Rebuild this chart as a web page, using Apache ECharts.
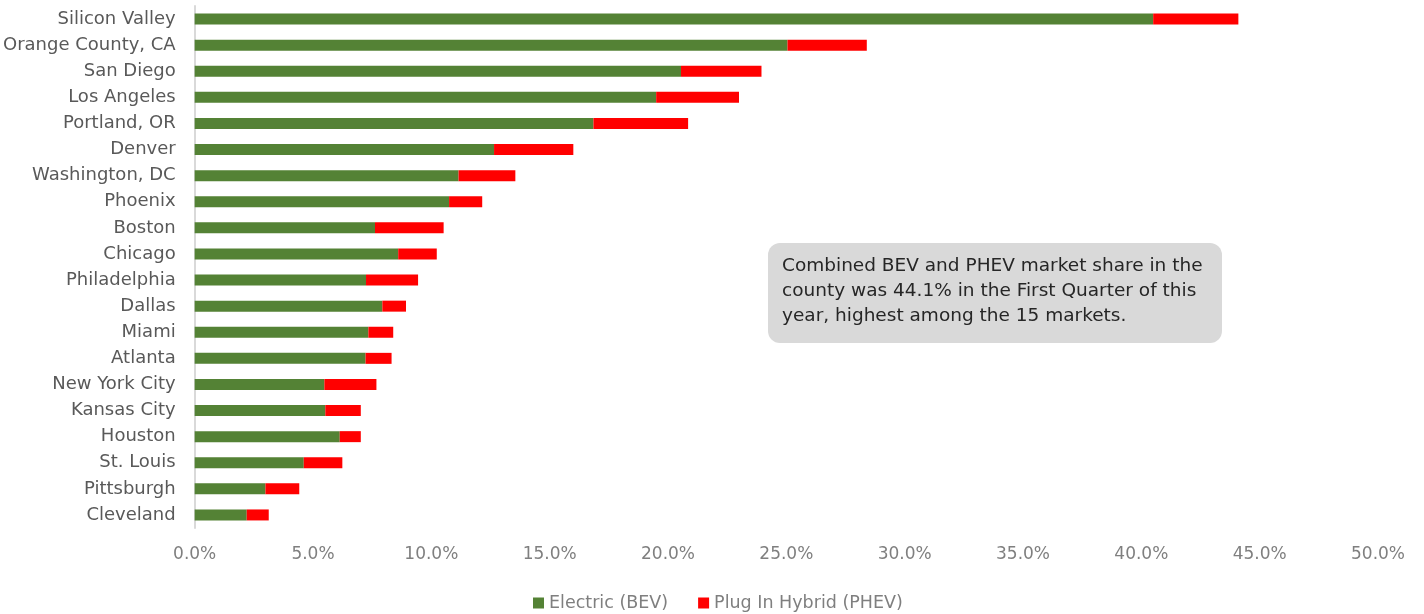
<!DOCTYPE html>
<html>
<head>
<meta charset="utf-8">
<script src="https://cdn.jsdelivr.net/npm/echarts@6/dist/echarts.min.js"></script>
<style>
html,body{margin:0;padding:0;background:#fff;}
#chart{width:1424px;height:614px;}
</style>
</head>
<body>
<div id="chart"></div>
<script>
const categories = ["Silicon Valley","Orange County, CA","San Diego","Los Angeles","Portland, OR","Denver","Washington, DC","Phoenix","Boston","Chicago","Philadelphia","Dallas","Miami","Atlanta","New York City","Kansas City","Houston","St. Louis","Pittsburgh","Cleveland"];
const bevValues = [40.5,25.05,20.55,19.5,16.85,12.65,11.15,10.75,7.62,8.6,7.24,7.93,7.34,7.22,5.48,5.52,6.13,4.61,2.99,2.2];
const phevValues = [3.6,3.35,3.4,3.5,4.0,3.35,2.4,1.4,2.9,1.63,2.2,1.0,1.05,1.1,2.2,1.5,0.89,1.63,1.43,0.93];
const xTicks = [0,5,10,15,20,25,30,35,40,45,50];
const seriesNames = ["Electric (BEV)","Plug In Hybrid (PHEV)"];
const noteLines = ["Combined BEV and PHEV market share in the","county was 44.1% in the First Quarter of this","year, highest among the 15 markets."];

const FONT = "'DejaVu Sans', sans-serif";
const chart = echarts.init(document.getElementById('chart'));
chart.setOption({
  animation:false,
  textStyle:{fontFamily:FONT},
  grid:{left:194,right:46,top:6,bottom:86,containLabel:false},
  legend:{
    bottom:-3,left:528,
    data:seriesNames,
    icon:'rect',itemWidth:11,itemHeight:11,itemGap:30,
    textStyle:{color:'#7f7f7f',fontSize:17.5,fontFamily:FONT}
  },
  xAxis:{
    type:'value',min:xTicks[0],max:xTicks[xTicks.length-1],interval:5,
    axisLine:{show:false},axisTick:{show:false},splitLine:{show:false},
    axisLabel:{color:'#7f7f7f',fontSize:17,margin:18,fontFamily:FONT,formatter:v=>v.toFixed(1)+'%'}
  },
  yAxis:{
    type:'category',inverse:true,data:categories,
    axisLine:{show:true,lineStyle:{color:'#d9d9d9',width:2}},
    axisTick:{show:false},
    axisLabel:{color:'#595959',fontSize:18,margin:19,fontFamily:FONT}
  },
  series:[
    {name:seriesNames[0],type:'bar',stack:'s',data:bevValues,barWidth:11,itemStyle:{color:'#548235'}},
    {name:seriesNames[1],type:'bar',stack:'s',data:phevValues,barWidth:11,itemStyle:{color:'#ff0000'}}
  ],
  graphic:[{
    type:'group',left:768,top:243,
    children:[
      {type:'rect',shape:{x:0,y:0,width:454,height:100,r:12},style:{fill:'#d9d9d9'}},
      {type:'text',left:14,top:11,style:{text:noteLines.join('\n'),font:"18.5px "+FONT,fill:'#262626',lineHeight:25}}
    ]
  }]
});
</script>
</body>
</html>
